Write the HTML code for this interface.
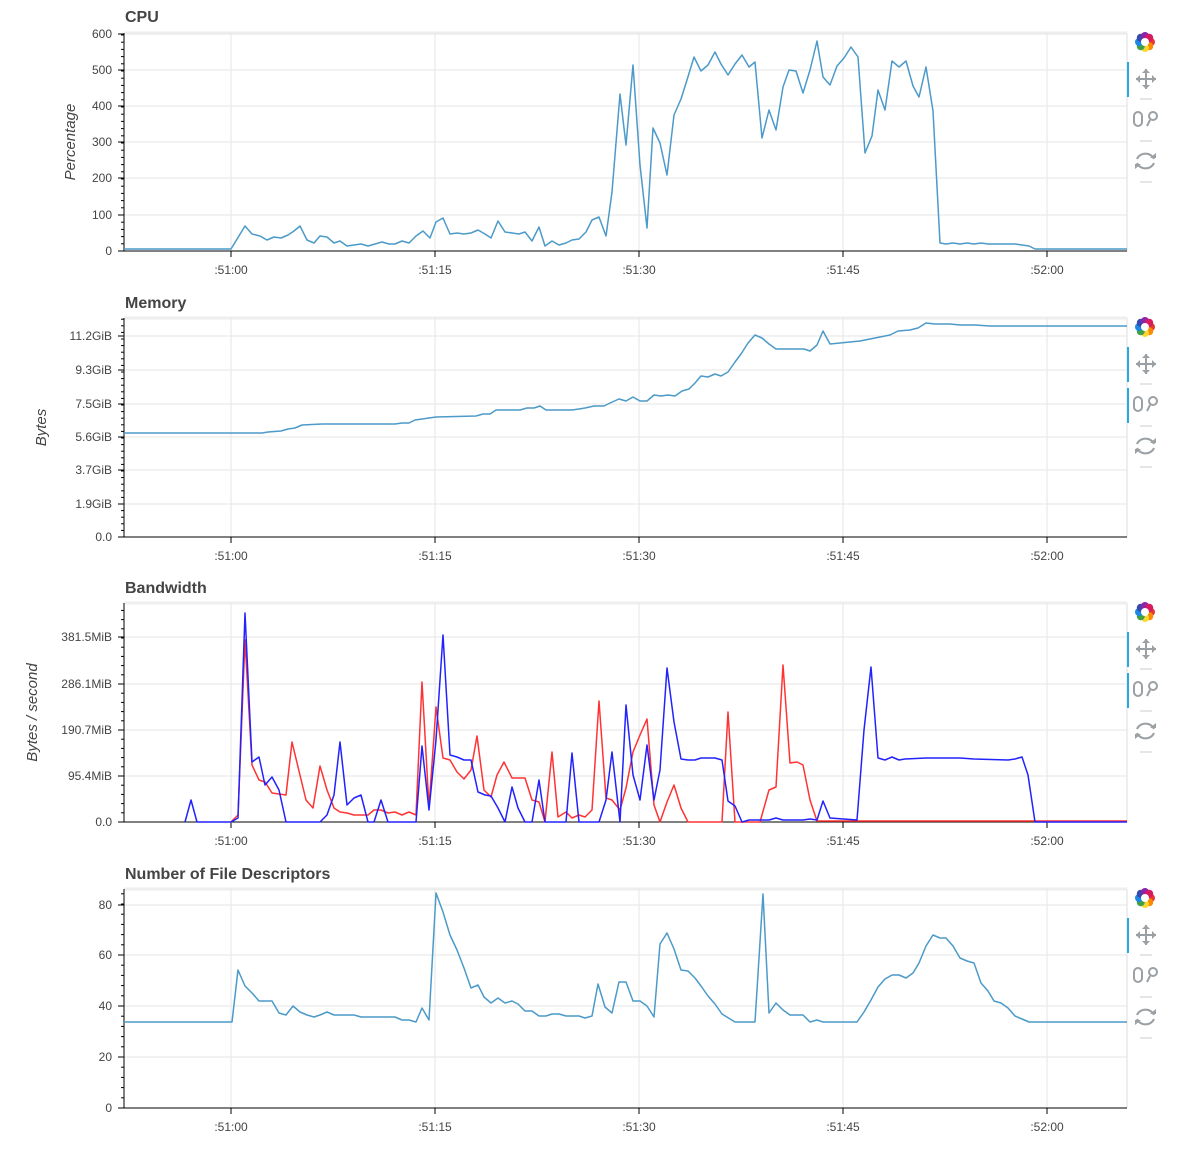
<!DOCTYPE html>
<html><head><meta charset="utf-8"><style>
body{margin:0;background:#fff;}
svg{display:block;font-family:"Liberation Sans",sans-serif;}
</style></head><body>
<svg id="s" width="1184" height="1172" xmlns="http://www.w3.org/2000/svg"></svg>
<script>
const S=document.getElementById('s');let h='';
const L=124,R=1127;
const xt=[[231,':51:00'],[435,':51:15'],[639,':51:30'],[843,':51:45'],[1047,':52:00']];
function panel(title,ty,top,bot,ticks,ylab,lx,series,activeWheel){
 h+=`<text x="125" y="${ty+5}" font-size="16" font-weight="bold" fill="#444">${title}</text>`;
 h+=`<line x1="${L}" y1="${top}" x2="${R}" y2="${top}" stroke="#eee" stroke-width="3"/>`;
 h+=`<line x1="${R}" y1="${top}" x2="${R}" y2="${bot}" stroke="#eee" stroke-width="2"/>`;
 for(const [x] of xt) h+=`<line x1="${x}" y1="${top}" x2="${x}" y2="${bot}" stroke="#e5e5e5"/>`;
 for(const [y,t] of ticks){ h+=`<line x1="${L}" y1="${y}" x2="${R}" y2="${y}" stroke="#e5e5e5"/>`;
  h+=`<line x1="${L-6}" y1="${y}" x2="${L}" y2="${y}" stroke="#000"/>`;
  h+=`<text x="${L-12}" y="${y+4}" font-size="12" fill="#444" text-anchor="end">${t}</text>`;}
 const step=(ticks[0][0]-ticks[1][0])/5;
 for(let y=ticks[0][0];y>top;y-=step) h+=`<line x1="${L-3}" y1="${y}" x2="${L}" y2="${y}" stroke="#000"/>`;
 h+=`<line x1="${L}" y1="${top}" x2="${L}" y2="${bot}" stroke="#000"/>`;
 h+=`<line x1="${L}" y1="${bot}" x2="${R}" y2="${bot}" stroke="#000"/>`;
 for(const [x,t] of xt){h+=`<line x1="${x}" y1="${bot}" x2="${x}" y2="${bot+6}" stroke="#000"/>`;
  h+=`<text x="${x}" y="${bot+23}" font-size="12" fill="#444" text-anchor="middle">${t}</text>`;}
 if(ylab){const cy=(top+bot)/2;h+=`<text x="${lx}" y="${cy}" font-size="15" font-style="italic" fill="#444" text-anchor="middle" transform="rotate(-90 ${lx} ${cy})">${ylab}</text>`;}
 for(const [pts,c] of series) h+=`<polyline fill="none" stroke="${c}" stroke-width="1.5" stroke-linejoin="round" points="${pts}"/>`;
 const t0=top;
 h+=`<g transform="translate(1145,${t0+9})">`;
 const cols=['#e53935','#fb8c00','#fdd835','#43a047','#1e88e5','#3949ab','#8e24aa','#d81b60'];
 for(let i=0;i<8;i++){const a=i*Math.PI/4;h+=`<circle cx="${6*Math.cos(a)}" cy="${6*Math.sin(a)}" r="4" fill="${cols[i]}"/>`;}
 h+=`<circle r="4" fill="#fff"/></g>`;
 h+=`<rect x="1127" y="${t0+29}" width="2" height="35" fill="#26aae1"/>`;
 if(activeWheel) h+=`<rect x="1127" y="${t0+70}" width="2" height="35" fill="#26aae1"/>`;
 const g='#9aa0a3';
 let py=t0+46;
 h+=`<path d="M1136 ${py}h20M1146 ${py-10}v20" stroke="${g}" stroke-width="2"/><path d="M1136 ${py}l4 -4v8zM1156 ${py}l-4 -4v8zM1146 ${py-10}l-4 4h8zM1146 ${py+10}l-4 -4h8z" fill="${g}"/>`;
 h+=`<line x1="1140" y1="${t0+66}" x2="1152" y2="${t0+66}" stroke="#ccc"/>`;
 py=t0+86;
 h+=`<rect x="1134" y="${py-7}" width="8" height="14" rx="4" fill="none" stroke="${g}" stroke-width="2"/><circle cx="1153" cy="${py-3}" r="4" fill="none" stroke="${g}" stroke-width="2"/><line x1="1150" y1="${py+1}" x2="1147" y2="${py+7}" stroke="${g}" stroke-width="2"/>`;
 h+=`<line x1="1140" y1="${t0+108}" x2="1152" y2="${t0+108}" stroke="#ccc"/>`;
 py=t0+128;
 h+=`<path d="M1137 ${py-2}a9 8 0 0 1 17 0M1154 ${py+2}a9 8 0 0 1 -17 0" fill="none" stroke="${g}" stroke-width="2"/><path d="M1150 ${py-3}h6v-5zM1141 ${py+3}h-6v5z" fill="${g}"/>`;
 h+=`<line x1="1140" y1="${t0+149}" x2="1152" y2="${t0+149}" stroke="#ccc"/>`;
}
const blue='#4c9ac9';
const cpu="124,249 231,249 245,226 252,234 260,236 267,240 274,237 281,238 288,235 294,231 300,226 307,240 314,243 320,236 327,237 334,243 340,241 347,246 354,245 361,244 368,246 375,244 382,242 389,244 395,244 402,241 409,243 416,236 423,231 430,238 436,222 443,218 450,234 457,233 464,234 471,233 478,230 485,234 491,238 498,221 505,232 512,233 519,234 525,232 532,241 539,227 545,246 552,241 559,245 566,243 572,240 579,239 586,232 592,220 599,217 606,236 612,192 620,94 626,145 633,65 640,165 647,228 653,128 660,143 667,175 674,115 681,99 687,80 694,57 701,71 708,65 715,52 721,64 728,75 735,64 742,55 749,67 755,62 762,138 769,110 776,130 783,87 789,70 796,71 803,93 810,70 817,41 823,77 830,85 837,66 844,58 851,47 858,57 865,153 872,136 878,90 885,110 892,61 899,67 906,61 913,86 919,97 926,67 933,111 940,243 946,244 953,243 960,244 967,243 974,244 981,243 988,244 994,244 1001,244 1008,244 1015,244 1022,245 1029,246 1035,249 1127,249";
panel('CPU',17,33,251,[[251,'0'],[215,'100'],[178,'200'],[142,'300'],[106,'400'],[70,'500'],[34,'600']],'Percentage',75,[[cpu,blue]]);
const mem="124,433 256,433 262,433 268,432 281,431 288,429 295,428 302,425 322,424 395,424 402,423 409,423 415,420 422,419 429,418 436,417 476,416 483,414 490,414 496,410 520,410 527,408 534,408 540,406 546,410 572,410 579,409 585,408 594,406 604,406 610,403 619,399 626,401 633,397 640,401 647,401 654,395 661,396 668,395 675,396 682,391 689,389 695,383 701,376 708,377 715,374 721,376 728,372 735,362 741,354 748,343 755,335 762,338 769,344 776,349 804,349 810,351 817,345 823,331 830,344 840,343 850,342 860,341 870,339 880,337 890,335 898,331 910,330 918,328 926,323 935,324 950,324 960,325 975,325 990,326 1127,326";
panel('Memory',303,318,537,[[537,'0.0'],[504,'1.9GiB'],[470,'3.7GiB'],[437,'5.6GiB'],[404,'7.5GiB'],[370,'9.3GiB'],[336,'11.2GiB']],'Bytes',46,[[mem,blue]],true);
const bb="185,822 191,800 197,822 231,822 238,818 245,613 252,762 259,757 265,785 272,777 279,790 286,822 320,822 327,815 334,795 340,742 347,805 354,798 361,795 368,822 374,822 381,800 388,822 416,822 422,746 429,810 436,740 443,635 450,755 457,757 464,760 471,760 478,792 485,795 491,796 498,808 505,822 512,787 518,808 525,822 532,822 539,780 545,822 566,822 572,753 579,822 599,822 606,800 612,752 620,822 626,705 633,775 640,800 647,745 654,800 660,770 667,668 674,722 681,759 688,760 695,760 701,758 715,758 722,760 728,801 735,806 742,822 749,820 769,820 776,818 783,820 803,820 810,819 817,820 823,801 830,818 857,820 864,730 871,667 878,758 885,760 892,757 899,760 905,759 926,758 960,758 974,759 1008,760 1015,759 1022,757 1028,775 1035,822 1127,822";
const rr="231,822 238,815 245,640 252,765 259,780 265,782 272,793 286,795 292,742 299,771 306,800 313,808 320,766 327,790 334,808 340,812 347,813 354,815 368,815 374,810 381,810 388,813 395,812 402,815 409,812 416,815 422,682 429,807 436,707 443,758 450,760 457,772 464,779 471,770 477,736 484,790 491,797 497,775 504,762 512,778 525,778 532,800 539,802 545,822 552,752 558,817 566,812 572,818 579,815 585,817 592,810 599,701 606,798 612,800 620,810 626,788 633,752 640,735 647,719 654,805 660,822 667,802 674,785 681,808 688,822 722,822 728,712 735,822 760,822 769,790 776,787 783,665 790,763 797,762 803,765 810,800 817,821 1127,821";
panel('Bandwidth',588,603,822,[[822,'0.0'],[776,'95.4MiB'],[730,'190.7MiB'],[684,'286.1MiB'],[637,'381.5MiB']],'Bytes / second',37,[[rr,'#ff3333'],[bb,'#2222ff']],true);
const fd="124,1022 232,1022 238,970 245,986 252,993 259,1001 272,1001 279,1013 286,1015 293,1006 300,1012 307,1015 314,1017 320,1015 327,1012 334,1015 354,1015 361,1017 395,1017 402,1020 409,1020 416,1022 422,1008 429,1020 436,893 443,912 450,935 457,950 464,968 471,988 478,985 484,997 491,1003 498,998 505,1003 512,1001 518,1004 525,1011 532,1011 539,1016 546,1016 552,1014 559,1014 566,1016 579,1016 585,1018 592,1016 598,984 605,1007 612,1013 619,982 626,982 633,1001 640,1001 647,1006 654,1017 660,944 667,933 674,949 681,970 688,971 695,978 701,986 708,996 715,1004 722,1014 735,1022 755,1022 763,894 769,1013 776,1003 783,1010 790,1015 803,1015 810,1022 817,1020 823,1022 857,1022 864,1012 871,1000 878,987 885,979 892,975 899,975 906,978 913,973 919,963 926,946 933,935 940,938 946,938 953,946 960,958 967,961 974,963 981,983 988,991 994,1001 1001,1003 1008,1008 1015,1016 1022,1019 1029,1022 1127,1022";
panel('Number of File Descriptors',874,889,1108,[[1108,'0'],[1057,'20'],[1006,'40'],[955,'60'],[905,'80']],'',0,[[fd,blue]]);
S.innerHTML=h;
</script>
</body></html>
